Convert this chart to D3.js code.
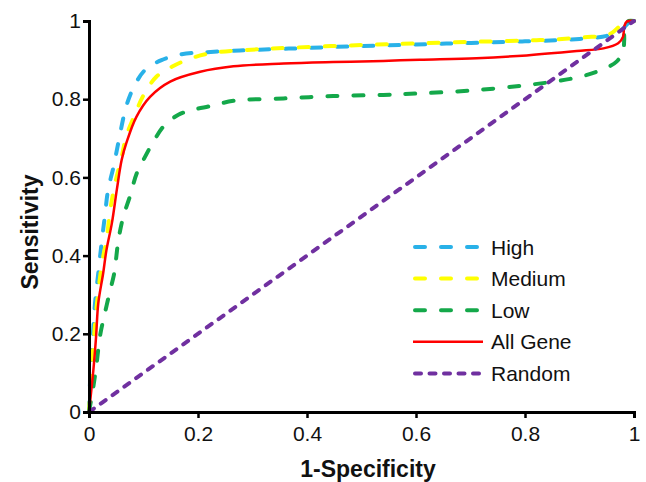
<!DOCTYPE html>
<html><head><meta charset="utf-8">
<script src="https://cdn.jsdelivr.net/npm/d3@7/dist/d3.min.js"></script>
<style>body{margin:0;background:#fff}svg{display:block}text{font-family:"Liberation Sans",Arial,sans-serif}</style>
</head><body><svg id="c" width="646" height="482"></svg>
<script>
const seriesNames = ["High","Medium","Low","All Gene","Random"];
const seriesColors = ["#29b1e8","#ffff00","#14a84a","#ff0000","#7030a0"];
const highX = [0,0.002,0.005,0.008,0.011,0.017,0.023,0.029,0.035,0.045,0.054,0.069,0.084,0.103,0.133,0.170,0.213,0.3,0.4,0.5,0.6,0.7,0.8,0.9,0.95,0.975,0.99,1];
const highY = [0,0.08,0.15,0.218,0.278,0.355,0.431,0.50,0.568,0.627,0.69,0.785,0.836,0.875,0.900,0.915,0.920,0.926,0.931,0.936,0.940,0.944,0.948,0.954,0.962,0.975,0.995,1];
const mediumX = [0,0.004,0.008,0.012,0.018,0.025,0.032,0.039,0.048,0.06,0.069,0.084,0.10,0.124,0.152,0.188,0.225,0.314,0.412,0.51,0.6,0.711,0.821,0.907,0.956,0.98,0.993,1];
const mediumY = [0,0.09,0.17,0.24,0.32,0.39,0.44,0.517,0.585,0.653,0.708,0.76,0.81,0.858,0.883,0.905,0.918,0.928,0.934,0.939,0.943,0.947,0.951,0.958,0.967,0.994,0.999,1];
const lowX = [0,0.008,0.014,0.02,0.029,0.039,0.045,0.048,0.054,0.063,0.075,0.0875,0.103,0.118,0.139,0.164,0.188,0.225,0.265,0.357,0.448,0.54,0.607,0.699,0.797,0.883,0.931,0.968,0.98,0.982,0.983,0.99,1];
const lowY = [0,0.065,0.124,0.193,0.252,0.312,0.346,0.372,0.44,0.50,0.551,0.61,0.653,0.691,0.734,0.76,0.772,0.783,0.796,0.802,0.808,0.811,0.815,0.822,0.835,0.852,0.870,0.896,0.925,0.951,0.994,1,1];
const allX = [0,0.008,0.013,0.017,0.026,0.032,0.042,0.051,0.06,0.069,0.087,0.112,0.149,0.204,0.265,0.357,0.448,0.54,0.607,0.711,0.803,0.895,0.944,0.971,0.98,0.982,0.987,1];
const allY = [0,0.107,0.193,0.278,0.355,0.414,0.483,0.568,0.645,0.69,0.755,0.806,0.845,0.870,0.884,0.891,0.895,0.898,0.901,0.905,0.912,0.923,0.93,0.943,0.96,0.986,0.999,1];
const randomX = [0,1];
const randomY = [0,1];
const tickValues = [0,0.2,0.4,0.6,0.8,1];
const tickLabels = ["0","0.2","0.4","0.6","0.8","1"];

const svg = d3.select("#c");
const x = d3.scaleLinear().domain([0,1]).range([89,634]);
const y = d3.scaleLinear().domain([0,1]).range([412,21]);

const series = [
  {name:seriesNames[0], color:seriesColors[0], xs:highX, ys:highY, dash:"10,16", w:4},
  {name:seriesNames[1], color:seriesColors[1], xs:mediumX, ys:mediumY, dash:"10,16", w:4},
  {name:seriesNames[2], color:seriesColors[2], xs:lowX, ys:lowY, dash:"10,16", w:4},
  {name:seriesNames[3], color:seriesColors[3], xs:allX, ys:allY, dash:null, w:2.5},
  {name:seriesNames[4], color:seriesColors[4], xs:randomX, ys:randomY, dash:"6,8.5", w:4}
];

const line = d3.line().x(d=>x(d[0])).y(d=>y(d[1])).curve(d3.curveCatmullRom.alpha(0.5));
series.forEach(s=>{
  const pts = s.xs.map((v,i)=>[v,s.ys[i]]);
  const p = svg.append("path").attr("d",line(pts)).attr("fill","none")
    .attr("stroke",s.color).attr("stroke-width",s.w)
    .attr("stroke-linecap", s.dash ? "round" : "butt").attr("stroke-linejoin","round");
  if (s.dash) p.attr("stroke-dasharray", s.dash);
});

const xAxis = svg.append("g").attr("transform","translate(0,412)")
  .call(d3.axisBottom(x).tickValues(tickValues).tickFormat((d,i)=>tickLabels[i]).tickSizeOuter(0).tickSize(6).tickPadding(8));
const yAxis = svg.append("g").attr("transform","translate(89,0)")
  .call(d3.axisLeft(y).tickValues(tickValues).tickFormat((d,i)=>tickLabels[i]).tickSizeOuter(0).tickSize(6).tickPadding(2));
[xAxis,yAxis].forEach(a=>{
  a.select(".domain").attr("stroke","#000").attr("stroke-width",3);
  a.selectAll(".tick line").attr("stroke","#000").attr("stroke-width",2.5);
  a.selectAll(".tick text").attr("fill","#111").attr("font-size",21).attr("font-family","'Liberation Sans',Arial,sans-serif");
});

svg.append("text").attr("x",368).attr("y",477).attr("text-anchor","middle")
  .attr("font-size",23).attr("font-weight","bold").attr("fill","#111").text("1-Specificity");
svg.append("text").attr("transform","translate(38,232) rotate(-90)").attr("text-anchor","middle")
  .attr("font-size",23).attr("font-weight","bold").attr("fill","#111").text("Sensitivity");

const lg = svg.append("g");
series.forEach((s,i)=>{
  const yy = 247 + i*31.6;
  const l = lg.append("line").attr("x1", s.dash ? 415 : 413).attr("x2", s.dash && s.w===4 && i<3 ? 480 : 483).attr("y1",yy).attr("y2",yy)
    .attr("stroke",s.color).attr("stroke-width",s.w).attr("stroke-linecap", s.dash ? "round":"butt");
  if (s.dash) l.attr("stroke-dasharray", s.dash);
  lg.append("text").attr("x",491).attr("y",yy).attr("dy","0.36em").attr("font-size",21).attr("fill","#111").text(s.name);
});
</script></body></html>
